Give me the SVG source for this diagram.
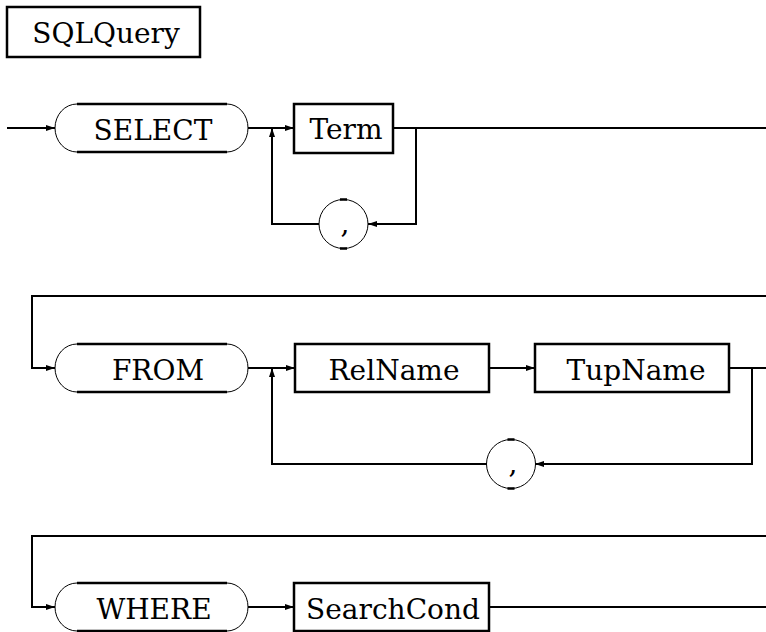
<svg xmlns="http://www.w3.org/2000/svg" width="766" height="632" viewBox="0 0 766 632">
<defs>
<style>
text{font-family:'DejaVu Serif','Liberation Serif',serif;font-size:28px;fill:#000;text-anchor:middle}
.box{fill:#fff;stroke:#000;stroke-width:2.5}
.thin{fill:none;stroke:#000;stroke-width:1}
.thick{fill:none;stroke:#000;stroke-width:2.5}
.ln{fill:none;stroke:#000;stroke-width:2}
</style>
<marker id="ah" markerUnits="userSpaceOnUse" markerWidth="10" markerHeight="7" refX="9" refY="3" orient="auto">
<path d="M0,0 L9,3 L0,6 z" fill="#000"/>
</marker>
</defs>
<rect width="766" height="632" fill="#fff"/>

<g id="connectors">
<path class="ln" d="M7,128 H55" marker-end="url(#ah)"/>
<path class="ln" d="M248,128 H294" marker-end="url(#ah)"/>
<path class="ln" d="M319,224 H272 V128" marker-end="url(#ah)"/>
<path class="ln" d="M393,128 H766"/>
<path class="ln" d="M416,128 V224 H368" marker-end="url(#ah)"/>
<path class="ln" d="M766,296 H32 V368 H55" marker-end="url(#ah)"/>
<path class="ln" d="M248,368 H295" marker-end="url(#ah)"/>
<path class="ln" d="M487,464 H272 V368" marker-end="url(#ah)"/>
<path class="ln" d="M489,368 H535" marker-end="url(#ah)"/>
<path class="ln" d="M729,368 H766"/>
<path class="ln" d="M752,368 V464 H535" marker-end="url(#ah)"/>
<path class="ln" d="M766,536 H32 V607 H55" marker-end="url(#ah)"/>
<path class="ln" d="M248,607 H294" marker-end="url(#ah)"/>
<path class="ln" d="M489,607 H766"/>
</g>

<g id="sqlquery">
<rect class="box" x="7" y="7" width="193" height="50"/>
<text x="106" y="43">SQLQuery</text>
</g>

<g id="select">
<path class="thick" d="M77,104 H227 M77,152 H227"/>
<path class="thin" d="M77,104 A22,24 0 0 0 77,152 M227,104 A21,24 0 0 1 227,152"/>
<text x="153" y="140">SELECT</text>
</g>

<g id="term">
<rect class="box" x="294" y="104" width="99" height="49"/>
<text x="346" y="139">Term</text>
</g>

<g id="comma1">
<circle class="thin" cx="343.5" cy="224" r="24.5"/>
<path class="thick" d="M340,199.5 H347 M340,248.5 H347"/>
<text x="345" y="233">,</text>
</g>

<g id="from">
<path class="thick" d="M77,344 H227 M77,392 H227"/>
<path class="thin" d="M77,344 A22,24 0 0 0 77,392 M227,344 A21,24 0 0 1 227,392"/>
<text x="158" y="380">FROM</text>
</g>

<g id="relname">
<rect class="box" x="295" y="344" width="194" height="48"/>
<text x="394" y="380">RelName</text>
</g>

<g id="tupname">
<rect class="box" x="535" y="344" width="194" height="48"/>
<text x="636" y="380">TupName</text>
</g>

<g id="comma2">
<circle class="thin" cx="511" cy="464" r="24.5"/>
<path class="thick" d="M507.5,439.5 H514.5 M507.5,488.5 H514.5"/>
<text x="513" y="473">,</text>
</g>

<g id="where">
<path class="thick" d="M77,583 H227 M77,631 H227"/>
<path class="thin" d="M77,583 A22,24 0 0 0 77,631 M227,583 A21,24 0 0 1 227,631"/>
<text x="154" y="619">WHERE</text>
</g>

<g id="searchcond">
<rect class="box" x="294" y="583" width="195" height="48"/>
<text x="393" y="619">SearchCond</text>
</g>
</svg>
